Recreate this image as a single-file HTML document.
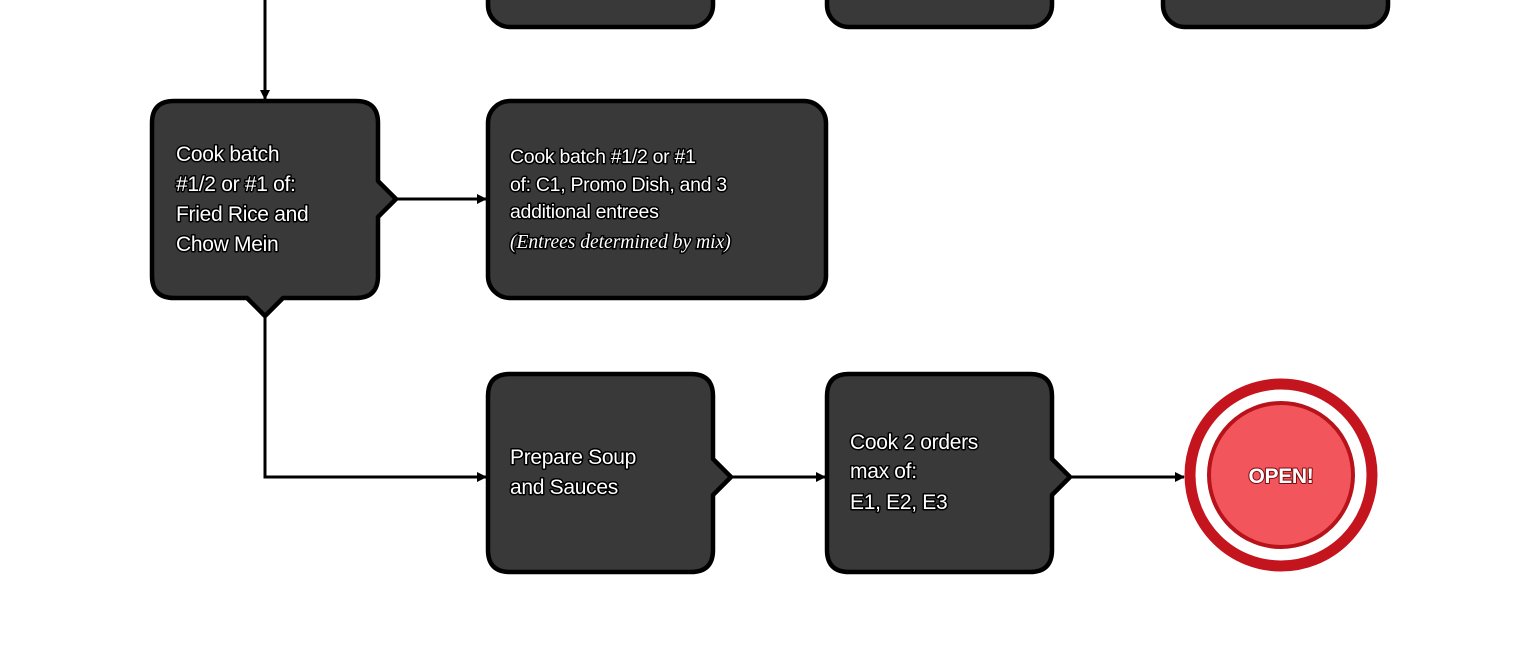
<!DOCTYPE html>
<html><head><meta charset="utf-8"><style>
html,body{margin:0;padding:0;background:#fff;}
svg{display:block;}
.t{font-family:"Liberation Sans",sans-serif;font-size:21px;fill:#fff;stroke:#000;stroke-width:3px;paint-order:stroke;stroke-linejoin:round;letter-spacing:-0.3px;}
.s{font-family:"Liberation Sans",sans-serif;font-size:19.5px;fill:#fff;stroke:#000;stroke-width:3px;paint-order:stroke;stroke-linejoin:round;letter-spacing:-0.3px;}
.i{font-family:"Liberation Serif",serif;font-style:italic;font-size:19.5px;fill:#fff;stroke:#000;stroke-width:3px;paint-order:stroke;}
.b{fill:#393939;stroke:#000;stroke-width:4.5;stroke-linejoin:round;}
</style></head><body>
<svg width="1540" height="663" viewBox="0 0 1540 663" xmlns="http://www.w3.org/2000/svg">
<defs><marker id="a" markerWidth="10" markerHeight="10" refX="9" refY="5" orient="auto" markerUnits="userSpaceOnUse" viewBox="0 0 10 10"><path d="M0,0 L10,5 L0,10 Z" fill="#000"/></marker></defs>
<!-- top partial boxes -->
<rect class="b" x="488" y="-40" width="225" height="67" rx="22"/>
<rect class="b" x="827" y="-40" width="225" height="67" rx="22"/>
<rect class="b" x="1163" y="-40" width="225" height="67" rx="22"/>
<!-- connectors -->
<g stroke="#000" stroke-width="3" fill="none">
<line x1="265" y1="0" x2="265" y2="99" marker-end="url(#a)"/>
<line x1="396" y1="199" x2="486" y2="199" marker-end="url(#a)"/>
<polyline points="265,316 265,477 486,477" marker-end="url(#a)"/>
<line x1="731" y1="477" x2="825" y2="477" marker-end="url(#a)"/>
<line x1="1070" y1="477" x2="1184" y2="477" marker-end="url(#a)"/>
</g>
<path class="b" d="M174,101 H356 Q378,101 378,123 V181 L396,199 L378,217 V276 Q378,298 356,298 H283 L265,316 L247,298 H174 Q152,298 152,276 V123 Q152,101 174,101 Z"/>
<rect class="b" x="488" y="101" width="338" height="197" rx="22"/>
<path class="b" d="M510,374 H691 Q713,374 713,396 V459 L731,477 L713,495 V550 Q713,572 691,572 H510 Q488,572 488,550 V396 Q488,374 510,374 Z"/>
<path class="b" d="M849,374 H1030 Q1052,374 1052,396 V459 L1070,477 L1052,495 V550 Q1052,572 1030,572 H849 Q827,572 827,550 V396 Q827,374 849,374 Z"/>
<!-- circle -->
<circle cx="1281" cy="475" r="91" fill="#fff" stroke="#c4141d" stroke-width="11"/>
<circle cx="1281" cy="475" r="72" fill="#f2555c" stroke="#b8121a" stroke-width="4"/>
<text x="1281" y="483" text-anchor="middle" class="t" style="font-size:21px;font-weight:bold;stroke:#7a0a0e;stroke-width:2px">OPEN!</text>
<!-- text -->
<text class="t" x="176" y="161">Cook batch</text>
<text class="t" x="176" y="191">#1/2 or #1 of:</text>
<text class="t" x="176" y="221">Fried Rice and</text>
<text class="t" x="176" y="251">Chow Mein</text>
<text class="s" x="510" y="163">Cook batch #1/2 or #1</text>
<text class="s" x="510" y="191">of: C1, Promo Dish, and 3</text>
<text class="s" x="510" y="218">additional entrees</text>
<text class="i" x="510" y="248">(Entrees determined by mix)</text>
<text class="t" x="510" y="464">Prepare Soup</text>
<text class="t" x="510" y="494">and Sauces</text>
<text class="t" x="850" y="449">Cook 2 orders</text>
<text class="t" x="850" y="478">max of:</text>
<text class="t" x="850" y="509">E1, E2, E3</text>
</svg>
</body></html>
